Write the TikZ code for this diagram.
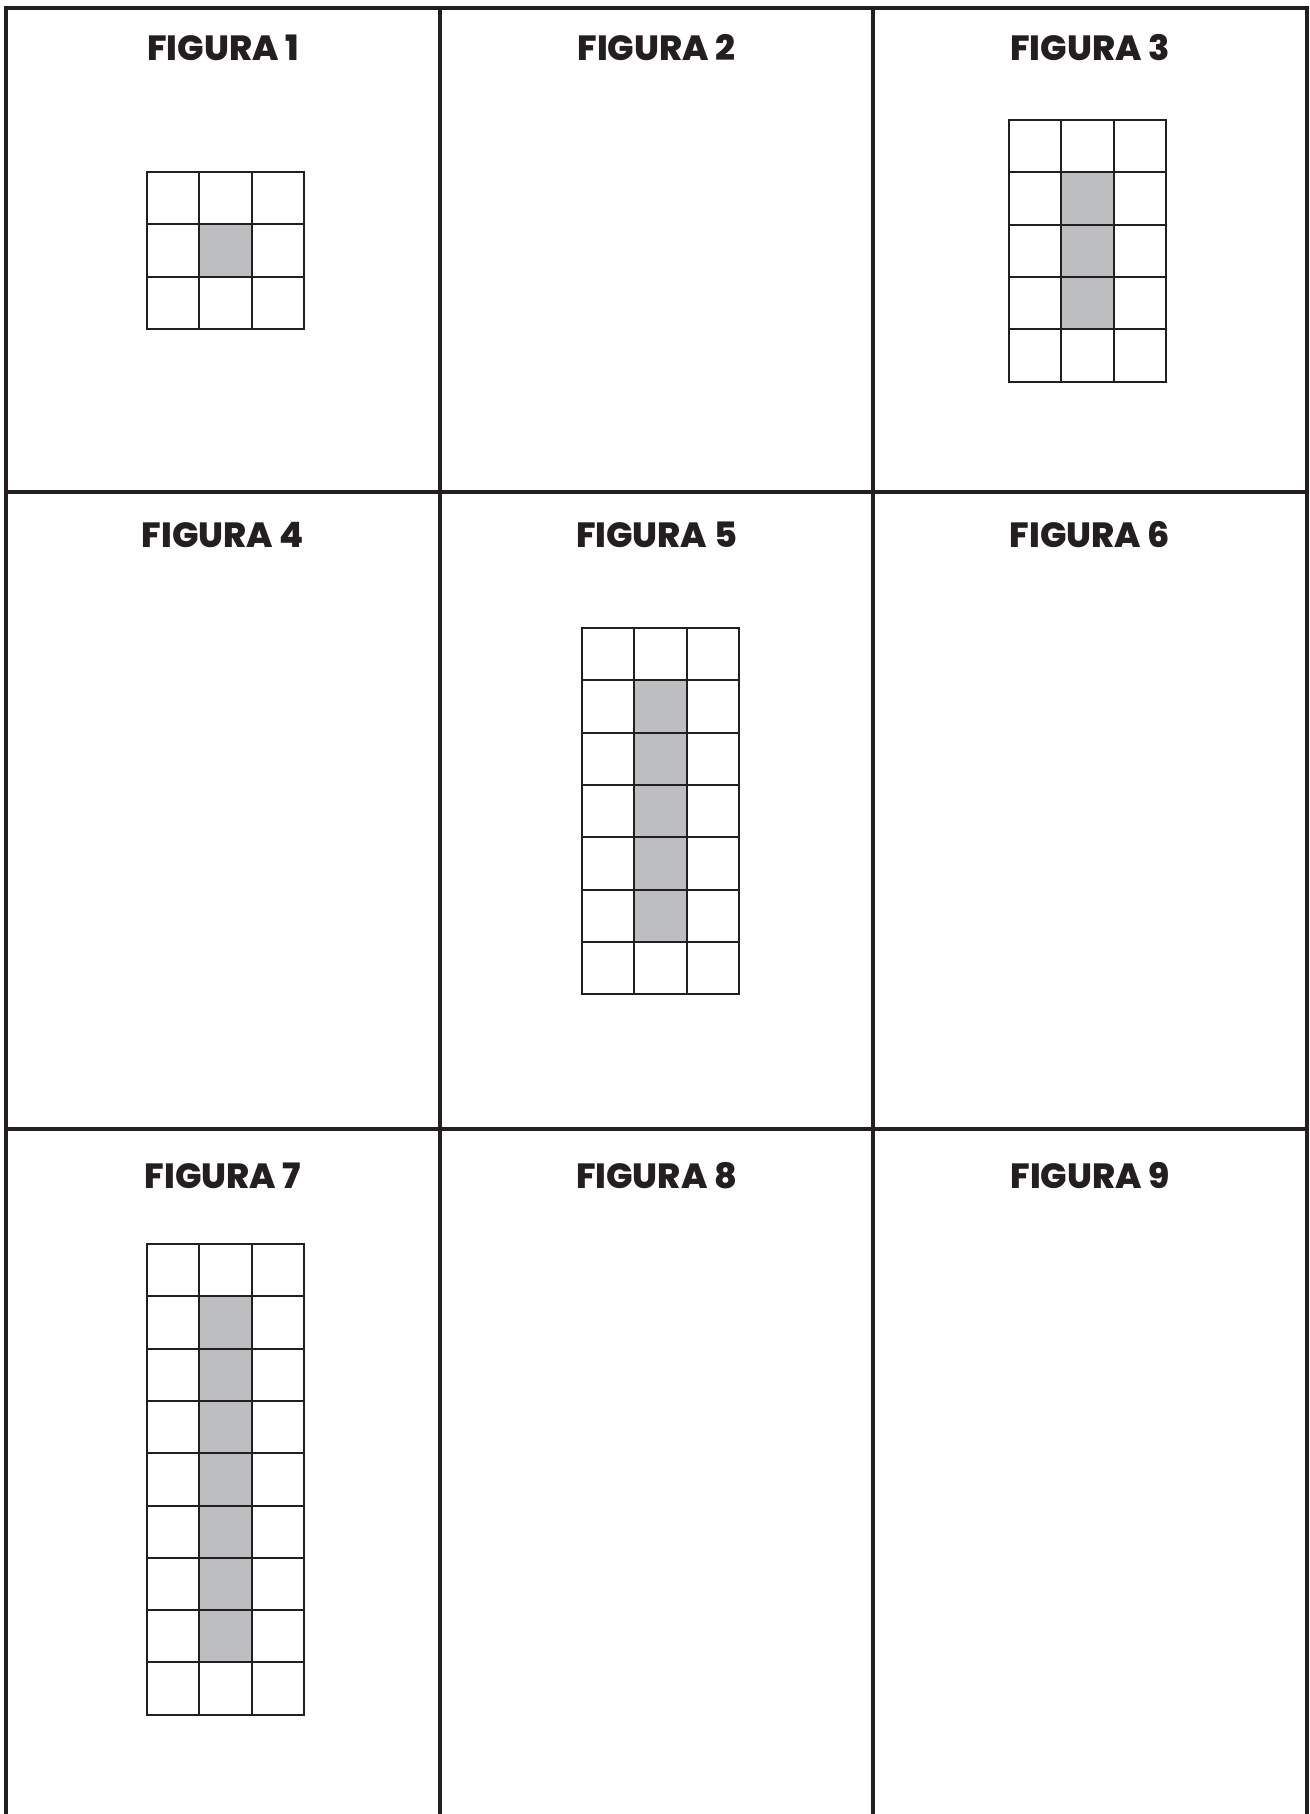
\documentclass[tikz,border=0pt]{standalone}
\usepackage{fontspec}
\setmainfont{Poppins}[BoldFont={Poppins ExtraBold}]
\definecolor{cellgray}{RGB}{188, 190, 192}
\definecolor{inkblack}{RGB}{35, 31, 32}
\usepackage{tikz}
\usetikzlibrary{positioning}

\begin{document}
\begin{tikzpicture}[x=0.5pt, y=-0.5pt, inkblack,
    title/.style={anchor=base, inner sep=0pt, font=\bfseries\fontsize{17.5}{20}\selectfont},
    frame/.style={draw=inkblack, line width=2pt},
    cell/.style={draw=inkblack, line width=1pt, line cap=rect}]
        \useasboundingbox (0,0) rectangle (1310,1814);
        % outer frame and dividers
        \draw [frame] (6,1814) -- (6,8) -- (1307,8) -- (1307,1814);
        \draw [frame] (440,8) -- (440,1814);
        \draw [frame] (873,8) -- (873,1814);
        \draw [frame] (6,491.5) -- (1307,491.5);
        \draw [frame] (6,1128.5) -- (1307,1128.5);
        % titles
        \foreach \n/\cx/\by in {1/223/61, 2/656.5/61, 3/1090/61, 4/223/547, 5/656.5/547, 6/1090/547, 7/223/1188, 8/656.5/1188, 9/1090/1188}
            \node [title] (t\n) at (\cx,\by) {FIGURA \n};
        % grids
        \foreach \gx/\gy/\rows in {147/172/3, 1009/120/5, 582/628/7, 147/1244/9} {
            \fill [cellgray] ({\gx+52.3},{\gy+52.3}) rectangle ({\gx+104.6},{\gy+(\rows-1)*52.3});
            \foreach \i in {0,...,3}
                \draw [cell] ({\gx+\i*52.3},\gy) -- ({\gx+\i*52.3},{\gy+\rows*52.3});
            \foreach \j in {0,...,\rows}
                \draw [cell] (\gx,{\gy+\j*52.3}) -- ({\gx+156.9},{\gy+\j*52.3});
        }
    \end{tikzpicture}
\end{document}
